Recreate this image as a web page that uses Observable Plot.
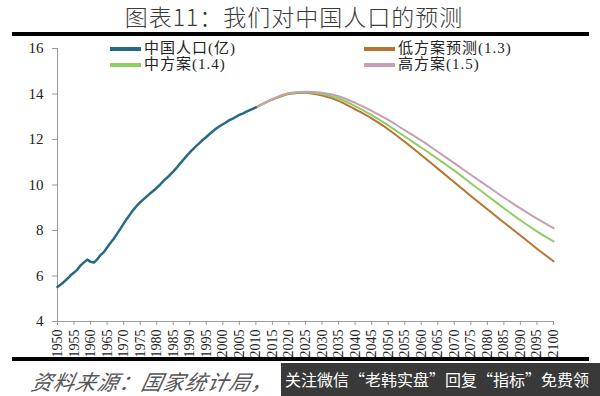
<!DOCTYPE html>
<html><head><meta charset="utf-8">
<script src="https://cdn.jsdelivr.net/npm/d3@7"></script>
<script src="https://cdn.jsdelivr.net/npm/@observablehq/plot@0.6"></script>
<style>
body{margin:0;background:#fff;}
#wrap{position:relative;width:600px;height:396px;overflow:hidden;background:#fff;}
#chart{position:absolute;left:0;top:0;}
#title{position:absolute;left:0;top:-1px;width:588px;text-align:center;font:300 23px "Noto Sans CJK SC",sans-serif;color:#3a3a3a;letter-spacing:1px;}
.rule{position:absolute;left:12px;width:577px;height:4px;background:#000;}
.leg{position:absolute;font:15px "Liberation Serif","Noto Sans CJK SC",serif;color:#222;letter-spacing:1px;line-height:16px;white-space:nowrap;}
.leg span.sw{display:inline-block;width:31px;height:4px;vertical-align:middle;margin-right:3px;position:relative;top:-1px;}
#source{position:absolute;left:32px;top:366px;font:italic 21px "Noto Sans CJK SC",sans-serif;color:#555;letter-spacing:1px;white-space:nowrap;transform:skewX(-12deg);}
#banner{position:absolute;left:281px;top:363px;width:319px;height:33px;background:rgba(40,40,40,0.92);color:#fff;font:16px "Noto Sans CJK SC",sans-serif;line-height:33px;padding-left:4px;white-space:nowrap;box-sizing:border-box;}
</style></head><body>
<div id="wrap">
  <div id="chart"></div>
  <div id="title"></div>
  <div class="rule" style="top:32px"></div>
  <div id="legend"></div>
  <div class="rule" style="top:357px"></div>
  <div id="source"></div>
  <div id="banner"></div>
</div>
<script>
const titleText = "图表11：我们对中国人口的预测";
const sourceText = "资料来源：国家统计局，";
const bannerText = "关注微信“老韩实盘”回复“指标”免费领";

const seriesNames = ["中国人口(亿)", "低方案预测(1.3)", "中方案(1.4)", "高方案(1.5)"];
const seriesColors = ["#256a86", "#b8732f", "#8fcd62", "#c3a0b3"];

const histYears = [1950,1951,1952,1953,1954,1955,1956,1957,1958,1959,1960,1961,1962,1963,1964,1965,1966,1967,1968,1969,1970,1971,1972,1973,1974,1975,1976,1977,1978,1979,1980,1981,1982,1983,1984,1985,1986,1987,1988,1989,1990,1991,1992,1993,1994,1995,1996,1997,1998,1999,2000,2001,2002,2003,2004,2005,2006,2007,2008,2009,2010];
const histValues = [5.52,5.63,5.75,5.88,6.03,6.15,6.28,6.47,6.60,6.72,6.62,6.59,6.73,6.92,7.05,7.25,7.45,7.64,7.85,8.07,8.30,8.52,8.72,8.92,9.09,9.24,9.37,9.50,9.63,9.75,9.87,10.01,10.17,10.30,10.44,10.59,10.75,10.93,11.10,11.27,11.43,11.58,11.72,11.85,11.99,12.11,12.24,12.36,12.48,12.58,12.67,12.76,12.85,12.92,13.00,13.08,13.14,13.21,13.28,13.35,13.41];

const projYears = [2010,2015,2020,2025,2030,2035,2040,2045,2050,2055,2060,2065,2070,2075,2080,2085,2090,2095,2100];
const lowValues  = [13.41,13.75,14.00,14.05,13.93,13.70,13.33,12.93,12.45,11.90,11.32,10.72,10.12,9.52,8.93,8.35,7.78,7.20,6.65];
const midValues  = [13.41,13.76,14.02,14.08,14.00,13.80,13.47,13.07,12.62,12.13,11.65,11.15,10.63,10.08,9.53,8.98,8.45,7.96,7.52];
const highValues = [13.41,13.78,14.04,14.10,14.05,13.90,13.61,13.26,12.86,12.41,11.96,11.46,10.96,10.45,9.95,9.45,8.97,8.52,8.10];

const xTicks = [1950,1955,1960,1965,1970,1975,1980,1985,1990,1995,2000,2005,2010,2015,2020,2025,2030,2035,2040,2045,2050,2055,2060,2065,2070,2075,2080,2085,2090,2095,2100];
const yTicks = [4,6,8,10,12,14,16];

const hist = histYears.map((y,i)=>({year:y, v:histValues[i]}));
const proj = (vals)=>projYears.map((y,i)=>({year:y, v:vals[i]}));

document.getElementById("title").textContent = titleText;
document.getElementById("source").textContent = sourceText;
document.getElementById("banner").textContent = bannerText;

const chart = Plot.plot({
  width: 600,
  height: 396,
  marginTop: 48,
  marginBottom: 75,
  marginLeft: 57,
  marginRight: 47,
  style: {fontFamily: "'Liberation Serif', serif", fontSize: "14px", color: "#222", background: "transparent"},
  x: {domain: [1950, 2100]},
  y: {domain: [4, 16]},
  marks: [
    Plot.ruleX([1950], {y1: 4, y2: 16, stroke: "#9a9a9a"}),
    Plot.ruleY([4], {x1: 1950, x2: 2100, stroke: "#9a9a9a"}),
    Plot.axisY(yTicks, {tickSize: 5, tickPadding: 9, stroke: "#9a9a9a", fill: "#222", fontSize: 15, label: null}),
    Plot.axisX(xTicks, {tickSize: 4, tickPadding: 4, tickRotate: -90, tickFormat: d => String(d), stroke: "#9a9a9a", fill: "#222", fontSize: 14, label: null}),
    Plot.line(proj(lowValues), {x: "year", y: "v", stroke: seriesColors[1], strokeWidth: 2, curve: "monotone-x"}),
    Plot.line(proj(midValues), {x: "year", y: "v", stroke: seriesColors[2], strokeWidth: 2, curve: "monotone-x"}),
    Plot.line(proj(highValues), {x: "year", y: "v", stroke: seriesColors[3], strokeWidth: 2, curve: "monotone-x"}),
    Plot.line(hist, {x: "year", y: "v", stroke: seriesColors[0], strokeWidth: 2.5})
  ]
});
document.getElementById("chart").appendChild(chart);

const legendPos = [[110, 40], [364, 40], [110, 56], [364, 56]];
const legOrder = [0, 1, 2, 3];
const legend = document.getElementById("legend");
legOrder.forEach((k, i) => {
  const d = document.createElement("div");
  d.className = "leg";
  d.style.left = legendPos[i][0] + "px";
  d.style.top = legendPos[i][1] + "px";
  const sw = document.createElement("span");
  sw.className = "sw";
  sw.style.background = seriesColors[k];
  d.appendChild(sw);
  d.appendChild(document.createTextNode(seriesNames[k]));
  legend.appendChild(d);
});
</script>
</body></html>
